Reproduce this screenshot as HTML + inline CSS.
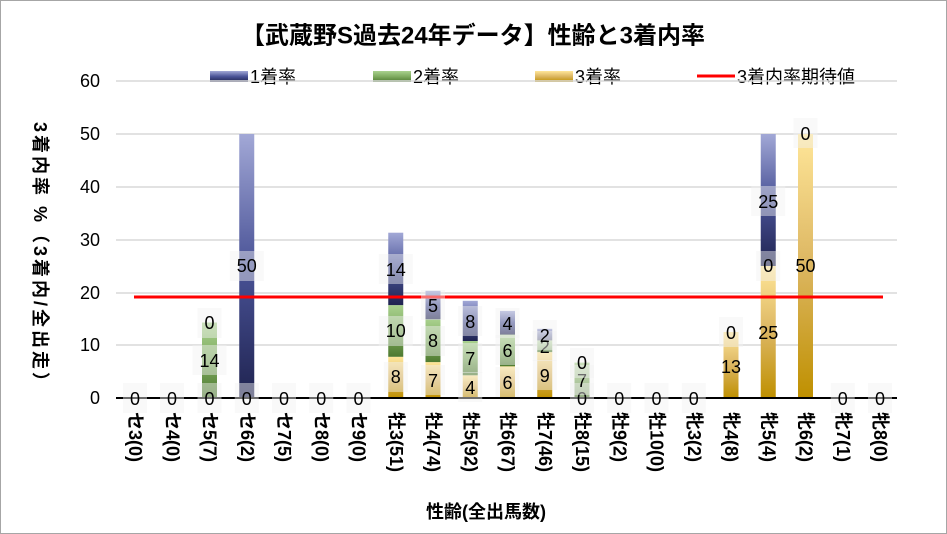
<!DOCTYPE html>
<html><head><meta charset="utf-8"><style>
body{margin:0;background:#fff}
svg{display:block;font-family:"Liberation Sans","Noto Sans CJK JP",sans-serif}
.l rect{fill:#f2f2f2;opacity:.45}
.l text{font-size:18px;text-anchor:middle;dominant-baseline:central;fill:#000}
.xl{font-size:18px;font-weight:bold;dominant-baseline:central}
</style></head><body>
<svg width="947" height="534" viewBox="0 0 947 534">
<defs>
<linearGradient id="g1" x1="0" y1="1" x2="0" y2="0"><stop offset="0" stop-color="#1f2350"/><stop offset=".5" stop-color="#4a5397"/><stop offset="1" stop-color="#a2a8d6"/></linearGradient>
<linearGradient id="g2" x1="0" y1="1" x2="0" y2="0"><stop offset="0" stop-color="#4e7a30"/><stop offset=".5" stop-color="#7fab60"/><stop offset="1" stop-color="#a9d18e"/></linearGradient>
<linearGradient id="g3" x1="0" y1="1" x2="0" y2="0"><stop offset="0" stop-color="#bf9000"/><stop offset=".5" stop-color="#dcb661"/><stop offset="1" stop-color="#ffe699"/></linearGradient>
</defs>
<rect x="0.5" y="0.5" width="946" height="533" fill="#fff" stroke="#a6a6a6"/>
<text x="473" y="36" font-size="24" font-weight="bold" text-anchor="middle" dominant-baseline="central">【武蔵野S過去24年データ】性齢と3着内率</text>
<rect x="210" y="71" width="38" height="11" fill="url(#g1)"/><text x="250" y="77" font-size="18" dominant-baseline="central">1着率</text>
<rect x="373" y="71" width="38" height="11" fill="url(#g2)"/><text x="413" y="77" font-size="18" dominant-baseline="central">2着率</text>
<rect x="535" y="71" width="38" height="11" fill="url(#g3)"/><text x="575" y="77" font-size="18" dominant-baseline="central">3着率</text>
<line x1="697" y1="76" x2="735" y2="76" stroke="#f00" stroke-width="3"/><text x="737" y="77" font-size="18" dominant-baseline="central">3着内率期待値</text>
<g stroke="#d9d9d9" stroke-width="1.5">
<line x1="116" y1="81" x2="897" y2="81"/><line x1="116" y1="134" x2="897" y2="134"/><line x1="116" y1="187" x2="897" y2="187"/><line x1="116" y1="240" x2="897" y2="240"/><line x1="116" y1="293" x2="897" y2="293"/><line x1="116" y1="345" x2="897" y2="345"/>
</g>
<g font-size="18" text-anchor="end" dominant-baseline="central">
<text x="100" y="81">60</text><text x="100" y="134">50</text><text x="100" y="187">40</text><text x="100" y="240">30</text><text x="100" y="293">20</text><text x="100" y="345">10</text><text x="100" y="398">0</text>
</g>
<text transform="translate(40,122) rotate(90)" font-size="18" font-weight="bold" letter-spacing="3" dominant-baseline="central">3着内率 %（3着内/全出走）</text>
<rect x="202" y="322.5" width="15" height="75.5" fill="url(#g2)"/>
<rect x="239.25" y="134" width="15" height="264" fill="url(#g1)"/>
<rect x="388.25" y="356.8" width="15" height="41.2" fill="url(#g3)"/>
<rect x="388.25" y="305.1" width="15" height="51.7" fill="url(#g2)"/>
<rect x="388.25" y="232.7" width="15" height="72.4" fill="url(#g1)"/>
<rect x="425.5" y="362.1" width="15" height="35.9" fill="url(#g3)"/>
<rect x="425.5" y="319.3" width="15" height="42.8" fill="url(#g2)"/>
<rect x="425.5" y="290.8" width="15" height="28.5" fill="url(#g1)"/>
<rect x="462.75" y="375.3" width="15" height="22.7" fill="url(#g3)"/>
<rect x="462.75" y="341" width="15" height="34.3" fill="url(#g2)"/>
<rect x="462.75" y="300.8" width="15" height="40.2" fill="url(#g1)"/>
<rect x="500" y="366.3" width="15" height="31.7" fill="url(#g3)"/>
<rect x="500" y="334.6" width="15" height="31.7" fill="url(#g2)"/>
<rect x="500" y="310.9" width="15" height="23.7" fill="url(#g1)"/>
<rect x="537.25" y="352.1" width="15" height="45.9" fill="url(#g3)"/>
<rect x="537.25" y="340.4" width="15" height="11.7" fill="url(#g2)"/>
<rect x="537.25" y="328.8" width="15" height="11.6" fill="url(#g1)"/>
<rect x="574.5" y="362.6" width="15" height="35.4" fill="url(#g2)"/>
<rect x="723.5" y="332" width="15" height="66" fill="url(#g3)"/>
<rect x="760.75" y="266" width="15" height="132" fill="url(#g3)"/>
<rect x="760.75" y="134" width="15" height="132" fill="url(#g1)"/>
<rect x="798" y="134" width="15" height="264" fill="url(#g3)"/>
<line x1="116" y1="398" x2="897" y2="398" stroke="#000" stroke-width="2"/>
<line x1="134" y1="297" x2="883" y2="297" stroke="#f00" stroke-width="3"/>
<g class="l">
<rect x="123" y="383" width="24" height="30"/><text x="135" y="399">0</text>
<rect x="160" y="383" width="24" height="30"/><text x="172" y="399">0</text>
<rect x="197.5" y="383" width="24" height="30"/><text x="209.5" y="399">0</text>
<rect x="192.5" y="345" width="34" height="30"/><text x="209.5" y="361">14</text>
<rect x="197.5" y="308" width="24" height="30"/><text x="209.5" y="323">0</text>
<rect x="234.75" y="383" width="24" height="30"/><text x="246.75" y="399">0</text>
<rect x="229.75" y="251" width="34" height="30"/><text x="246.75" y="266">50</text>
<rect x="272" y="383" width="24" height="30"/><text x="284" y="399">0</text>
<rect x="309.25" y="383" width="24" height="30"/><text x="321.25" y="399">0</text>
<rect x="346.5" y="383" width="24" height="30"/><text x="358.5" y="399">0</text>
<rect x="383.75" y="362" width="24" height="30"/><text x="395.75" y="377">8</text>
<rect x="378.75" y="316" width="34" height="30"/><text x="395.75" y="331">10</text>
<rect x="378.75" y="254" width="34" height="30"/><text x="395.75" y="270">14</text>
<rect x="421" y="365" width="24" height="30"/><text x="433" y="381">7</text>
<rect x="421" y="326" width="24" height="30"/><text x="433" y="341">8</text>
<rect x="421" y="290" width="24" height="30"/><text x="433" y="306">5</text>
<rect x="458.25" y="372" width="24" height="30"/><text x="470.25" y="388">4</text>
<rect x="458.25" y="343" width="24" height="30"/><text x="470.25" y="359">7</text>
<rect x="458.25" y="306" width="24" height="30"/><text x="470.25" y="322">8</text>
<rect x="495.5" y="367" width="24" height="30"/><text x="507.5" y="383">6</text>
<rect x="495.5" y="335" width="24" height="30"/><text x="507.5" y="351">6</text>
<rect x="495.5" y="308" width="24" height="30"/><text x="507.5" y="324">4</text>
<rect x="532.75" y="360" width="24" height="30"/><text x="544.75" y="376">9</text>
<rect x="532.75" y="331" width="24" height="30"/><text x="544.75" y="347">2</text>
<rect x="532.75" y="320" width="24" height="30"/><text x="544.75" y="336">2</text>
<rect x="570" y="383" width="24" height="30"/><text x="582" y="399">0</text>
<rect x="570" y="365" width="24" height="30"/><text x="582" y="381">7</text>
<rect x="570" y="348" width="24" height="30"/><text x="582" y="363">0</text>
<rect x="607.25" y="383" width="24" height="30"/><text x="619.25" y="399">0</text>
<rect x="644.5" y="383" width="24" height="30"/><text x="656.5" y="399">0</text>
<rect x="681.75" y="383" width="24" height="30"/><text x="693.75" y="399">0</text>
<rect x="719" y="317" width="24" height="30"/><text x="731" y="333">0</text>
<text x="731" y="367">13</text>
<rect x="756.25" y="251" width="24" height="30"/><text x="768.25" y="266">0</text>
<text x="768.25" y="333">25</text>
<rect x="751.25" y="186" width="34" height="30"/><text x="768.25" y="202">25</text>
<text x="805.5" y="266">50</text>
<rect x="793.5" y="118" width="24" height="30"/><text x="805.5" y="134">0</text>
<rect x="830.75" y="383" width="24" height="30"/><text x="842.75" y="399">0</text>
<rect x="868" y="383" width="24" height="30"/><text x="880" y="399">0</text>
</g>
<g class="xl">
<text transform="translate(135,412) rotate(90)">セ3(0)</text>
<text transform="translate(172.25,412) rotate(90)">セ4(0)</text>
<text transform="translate(209.5,412) rotate(90)">セ5(7)</text>
<text transform="translate(246.75,412) rotate(90)">セ6(2)</text>
<text transform="translate(284,412) rotate(90)">セ7(5)</text>
<text transform="translate(321.25,412) rotate(90)">セ8(0)</text>
<text transform="translate(358.5,412) rotate(90)">セ9(0)</text>
<text transform="translate(395.75,412) rotate(90)">牡3(51)</text>
<text transform="translate(433,412) rotate(90)">牡4(74)</text>
<text transform="translate(470.25,412) rotate(90)">牡5(92)</text>
<text transform="translate(507.5,412) rotate(90)">牡6(67)</text>
<text transform="translate(544.75,412) rotate(90)">牡7(46)</text>
<text transform="translate(582,412) rotate(90)">牡8(15)</text>
<text transform="translate(619.25,412) rotate(90)">牡9(2)</text>
<text transform="translate(656.5,412) rotate(90)">牡10(0)</text>
<text transform="translate(693.75,412) rotate(90)">牝3(2)</text>
<text transform="translate(731,412) rotate(90)">牝4(8)</text>
<text transform="translate(768.25,412) rotate(90)">牝5(4)</text>
<text transform="translate(805.5,412) rotate(90)">牝6(2)</text>
<text transform="translate(842.75,412) rotate(90)">牝7(1)</text>
<text transform="translate(880,412) rotate(90)">牝8(0)</text>
</g>
<text x="486" y="512" font-size="18" font-weight="bold" text-anchor="middle" dominant-baseline="central">性齢(全出馬数)</text>
</svg>
</body></html>
